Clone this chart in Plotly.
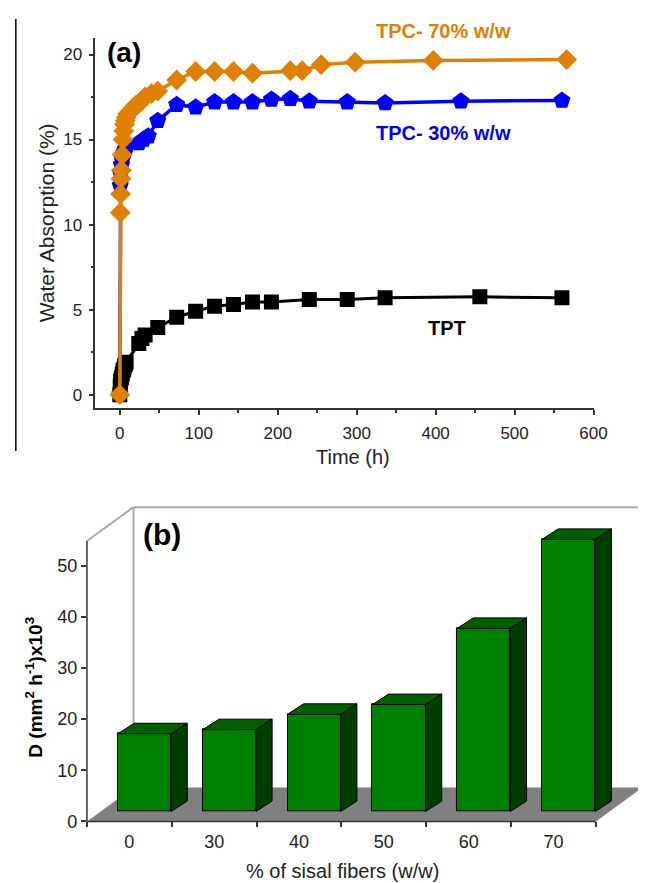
import plotly.graph_objects as go

# ---------------- data: panel (a) ----------------
t_tpt = [0, 0.5, 1, 2, 3, 4, 5, 6, 7, 8, 24, 28, 32, 48, 72, 96, 120, 144, 168, 192, 240, 288, 336, 456, 560]
wa_tpt = [0, 0.5, 0.8, 1.0, 1.2, 1.4, 1.5, 1.7, 1.8, 1.9, 3.0, 3.3, 3.5, 3.95, 4.55, 4.9, 5.2, 5.3, 5.45, 5.45,
          5.6, 5.6, 5.7, 5.75, 5.7]

t_30 = [0, 0.5, 1, 2, 3, 4, 5, 6, 7, 8, 24, 30, 36, 48, 72, 96, 120, 144, 168, 192, 216, 240, 288, 336, 432, 560]
wa_30 = [0, 12.3, 13.0, 13.5, 13.8, 14.0, 14.2, 14.3, 14.4, 14.5, 14.8, 15.0, 15.2, 16.1, 17.05, 16.9, 17.2,
         17.2, 17.2, 17.35, 17.4, 17.25, 17.2, 17.15, 17.25, 17.3]

t_70 = [0, 0.5, 1, 1.5, 2, 3, 4, 5, 6, 7, 8, 10, 12, 16, 20, 24, 28, 32, 40, 48, 72, 96, 120, 144, 168, 216,
        231, 255, 298, 397, 566]
wa_70 = [0, 10.7, 11.8, 12.7, 13.2, 14.1, 15.0, 15.5, 15.9, 16.1, 16.3, 16.5, 16.6, 16.8, 17.0, 17.1, 17.3,
         17.5, 17.7, 17.85, 18.5, 19.0, 19.0, 19.0, 18.9, 19.05, 19.05, 19.4, 19.55, 19.65, 19.7]

# ---------------- data: panel (b) ----------------
fiber_cats = ["0", "30", "40", "50", "60", "70"]
diff_D = [15.2, 16.0, 19.0, 20.9, 35.8, 53.2]

W, H = 646, 883
FONT = "Liberation Sans, Arial, sans-serif"
ORANGE = "#E08000"
BLUE = "#0000FF"

def px(x):
    return x / W

def py(y):
    return 1 - y / H

fig = go.Figure()

# ---------- panel (a) ----------
fig.add_trace(go.Scatter(x=t_tpt, y=wa_tpt, mode="lines+markers", xaxis="x", yaxis="y",
                         line=dict(color="black", width=3),
                         marker=dict(symbol="square", size=15, color="black"), showlegend=False))
fig.add_trace(go.Scatter(x=t_30, y=wa_30, mode="lines+markers", xaxis="x", yaxis="y",
                         line=dict(color=BLUE, width=3.5),
                         marker=dict(symbol="pentagon", size=18, color=BLUE), showlegend=False))
fig.add_trace(go.Scatter(x=t_70, y=wa_70, mode="lines+markers", xaxis="x", yaxis="y",
                         line=dict(color=ORANGE, width=3.5),
                         marker=dict(symbol="diamond", size=16, color=ORANGE), showlegend=False))

# ---------- panel (b) geometry ----------
b_x0, b_y0 = 80.7, 822.7          # pixel of (x=-0.5, y=0)
cat_w = 86.7                      # px per category
unit = 5.174                      # px per y unit
b_right = 646.0
b_top = 505.0
xr2 = [-0.5, -0.5 + (b_right - b_x0) / cat_w]
yr2 = [0, (b_y0 - b_top) / unit]

back_dx = 47.6 / cat_w            # depth of back wall in x units
back_dy = 34.3 / unit             # depth of back wall in y units
bar_off = 15.5 / cat_w
bar_base = 10.0 / unit
bar_w = 54.4 / cat_w
dep_dx = 16.5 / cat_w
dep_dy = 10.6 / unit
n = len(fiber_cats)
xs = list(range(n))

def bx(v):
    return px(b_x0 + (v + 0.5) * cat_w)

def by(v):
    return py(b_y0 - v * unit)

# front faces
fig.add_trace(go.Bar(x=xs, y=diff_D, base=bar_base, xaxis="x2", yaxis="y2",
                     width=bar_w, offset=bar_off - bar_w / 2,
                     marker=dict(color="#008000", line=dict(color="black", width=1)),
                     showlegend=False))

# top and side faces
for i, v in enumerate(diff_D):
    xl = i + bar_off - bar_w / 2
    xrr = i + bar_off + bar_w / 2
    top = bar_base + v
    fig.add_trace(go.Scatter(x=[xl, xrr, xrr + dep_dx, xl + dep_dx, xl],
                             y=[top, top, top + dep_dy, top + dep_dy, top],
                             xaxis="x2", yaxis="y2", mode="lines", fill="toself",
                             fillcolor="#006000", line=dict(color="black", width=1),
                             showlegend=False, hoverinfo="skip"))
    fig.add_trace(go.Scatter(x=[xrr, xrr, xrr + dep_dx, xrr + dep_dx, xrr],
                             y=[bar_base, top, top + dep_dy, bar_base + dep_dy, bar_base],
                             xaxis="x2", yaxis="y2", mode="lines", fill="toself",
                             fillcolor="#003e00", line=dict(color="black", width=1),
                             showlegend=False, hoverinfo="skip"))

axis_top = 54.8
shapes = []
# floor (below the bars)
shapes.append(dict(type="path", xref="x2", yref="y2", layer="below",
                   path=f"M {-0.5},0 L {n - 0.5},0 L {n - 0.5 + back_dx},{back_dy} "
                        f"L {-0.5 + back_dx},{back_dy} Z",
                   fillcolor="#808080", line=dict(width=0)))
# back wall lines (light gray)
wall = "#A8A8A8"
shapes.append(dict(type="line", xref="paper", yref="paper", x0=bx(-0.5), y0=by(axis_top),
                   x1=bx(-0.5 + back_dx), y1=by(axis_top + back_dy), line=dict(color=wall, width=2), layer="below"))
shapes.append(dict(type="line", xref="paper", yref="paper", x0=bx(-0.5 + back_dx), y0=by(axis_top + back_dy),
                   x1=1.0, y1=by(axis_top + back_dy), line=dict(color=wall, width=2), layer="below"))
shapes.append(dict(type="line", xref="paper", yref="paper", x0=bx(-0.5 + back_dx), y0=by(back_dy),
                   x1=bx(-0.5 + back_dx), y1=by(axis_top + back_dy), line=dict(color=wall, width=2), layer="below"))
# front axes
shapes.append(dict(type="line", xref="paper", yref="paper", x0=bx(-0.5), y0=by(0),
                   x1=bx(-0.5), y1=by(axis_top), line=dict(color="#333333", width=1.5)))
shapes.append(dict(type="line", xref="paper", yref="paper", x0=bx(-0.5), y0=by(0),
                   x1=bx(n - 0.5), y1=by(0), line=dict(color="#333333", width=1.5)))
# left page border line
shapes.append(dict(type="line", xref="paper", yref="paper", x0=px(8), y0=py(11), x1=px(8), y1=py(448),
                   line=dict(color="black", width=1.5)))

ann = []
def add_text(txt, x, y, size, color="black", bold=False, angle=0):
    ann.append(dict(text=f"<b>{txt}</b>" if bold else txt, x=px(x), y=py(y), xref="paper", yref="paper",
                    showarrow=False, xanchor="center", yanchor="middle", textangle=angle,
                    font=dict(family=FONT, size=size, color=color)))

add_text("(a)", 119, 45, 28, bold=True)
add_text("TPC- 70% w/w", 444.7, 23, 20, ORANGE, bold=True)
add_text("TPC- 30% w/w", 444.7, 126, 20, BLUE, bold=True)
add_text("TPT", 449, 324, 20, bold=True)
add_text("Water Absorption (%)", 39, 217.5, 21, "#222222", angle=-90)
add_text("Time (h)", 353, 454, 20, "#222222")
add_text("(b)", 157.7, 532.7, 30, bold=True)
add_text("D (mm<sup>2</sup> h<sup>-1</sup>)x10<sup>3</sup>", 27, 687, 19, bold=True, angle=-90)
add_text("% of sisal fibers (w/w)", 341.6, 873, 20, "#222222")

fig.update_layout(
    width=W, height=H, margin=dict(l=0, r=0, t=0, b=0),
    paper_bgcolor="white", plot_bgcolor="rgba(0,0,0,0)",
    font=dict(family=FONT, color="#222222"),
    xaxis=dict(domain=[px(89.3), px(598.5)], range=[-31, 600], anchor="y",
               showline=True, linecolor="#333333", linewidth=1.5, showgrid=False, zeroline=False,
               ticks="outside", ticklen=5, tickwidth=1.5, tickcolor="#333333",
               tickvals=[0, 100, 200, 300, 400, 500, 600], ticklabelstandoff=3,
               tickfont=dict(size=17, family=FONT, color="#222222"),
               minor=dict(tickvals=[50, 150, 250, 350, 450, 550], ticks="outside", ticklen=3,
                          tickwidth=1.5, tickcolor="#333333")),
    yaxis=dict(domain=[py(405), py(30)], range=[-0.81, 20.99], anchor="x",
               showline=True, linecolor="#333333", linewidth=1.5, showgrid=False, zeroline=False,
               ticks="outside", ticklen=5, tickwidth=1.5, tickcolor="#333333",
               tickvals=[0, 5, 10, 15, 20], ticklabelstandoff=3,
               tickfont=dict(size=17, family=FONT, color="#222222"),
               minor=dict(tickvals=[2.5, 7.5, 12.5, 17.5], ticks="outside", ticklen=3,
                          tickwidth=1.5, tickcolor="#333333")),
    xaxis2=dict(domain=[px(b_x0), 1.0], range=xr2, anchor="y2",
                showline=False, showgrid=False, zeroline=False,
                tickvals=xs, ticktext=fiber_cats, ticks="", ticklabelstandoff=8,
                tickfont=dict(size=18, family=FONT, color="#222222"),
                minor=dict(tickvals=[i - 0.5 for i in range(n + 1)], ticks="outside", ticklen=5,
                           tickwidth=1.5, tickcolor="#333333")),
    yaxis2=dict(domain=[py(b_y0), py(b_top)], range=yr2, anchor="x2",
                showline=False, showgrid=False, zeroline=False,
                tickvals=[0, 10, 20, 30, 40, 50], ticks="outside", ticklen=5,
                tickwidth=1.5, tickcolor="#333333",
                tickfont=dict(size=18, family=FONT, color="#222222")),
    shapes=shapes, annotations=ann, bargap=0,
)

fig.write_html("out.html")
